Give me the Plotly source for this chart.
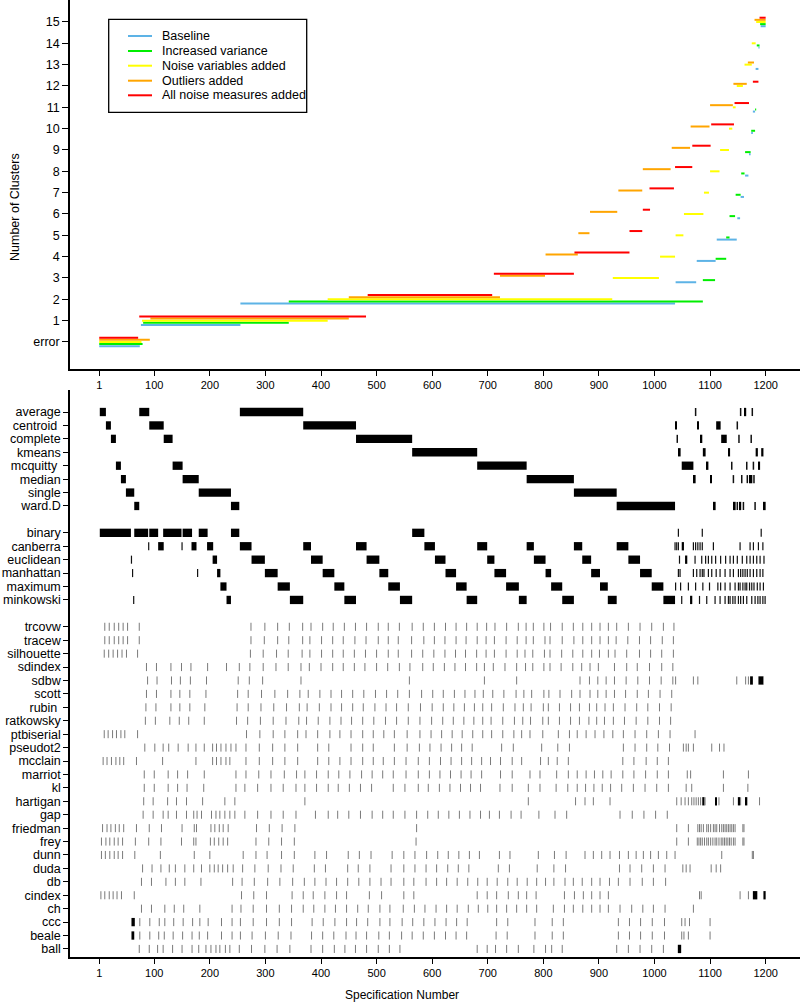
import plotly.graph_objects as go

# ---------------- data: top panel (number of clusters by specification) ----------------
x_tick_vals = [1, 100, 200, 300, 400, 500, 600, 700, 800, 900, 1000, 1100, 1200]
cluster_tick_vals = list(range(0, 16))
cluster_tick_text = ["error"] + [str(i) for i in range(1, 16)]

conditions = ["Baseline", "Increased variance", "Noise variables added",
              "Outliers added", "All noise measures added"]
condition_colors = ["#5DB3E6", "#00EE00", "#FFFF00", "#FFA500", "#FF0000"]

baseline_levels = [0, 1, 2, 3, 4, 5, 6, 7, 8, 9, 10, 11, 13, 14, 15]
baseline_start = [1, 76, 255, 1038, 1076, 1112, 1149, 1155, 1163, 1170, 1174, 1177, 1182, 1187, 1191]
baseline_end = [74, 255, 1037, 1075, 1110, 1148, 1154, 1161, 1169, 1173, 1177, 1181, 1187, 1189, 1200]

variance_levels = [0, 1, 2, 3, 4, 5, 6, 7, 8, 9, 10, 11, 14, 15]
variance_start = [1, 80, 342, 1087, 1110, 1129, 1135, 1146, 1156, 1163, 1174, 1181, 1184, 1190]
variance_end = [79, 342, 1087, 1109, 1129, 1135, 1145, 1155, 1162, 1173, 1181, 1183, 1189, 1200]

noisevar_levels = [0, 1, 2, 3, 4, 5, 6, 7, 8, 9, 10, 11, 12, 13, 14, 15]
noisevar_start = [1, 78, 412, 925, 1010, 1038, 1053, 1089, 1100, 1118, 1134, 1141, 1148, 1162, 1175, 1183]
noisevar_end = [77, 412, 924, 1008, 1037, 1052, 1088, 1098, 1117, 1134, 1140, 1146, 1159, 1175, 1182, 1200]

outlier_levels = [0, 1, 2, 3, 4, 5, 6, 7, 8, 9, 10, 11, 12, 13, 15]
outlier_start = [1, 93, 450, 722, 804, 863, 884, 935, 979, 1031, 1065, 1100, 1142, 1168, 1180]
outlier_end = [92, 450, 722, 803, 862, 883, 933, 978, 1029, 1064, 1099, 1141, 1166, 1179, 1200]

allnoise_levels = [0, 1, 2, 3, 4, 5, 6, 7, 8, 9, 10, 11, 12, 15]
allnoise_start = [1, 73, 484, 711, 856, 955, 979, 991, 1037, 1068, 1102, 1144, 1177, 1189]
allnoise_end = [71, 481, 708, 855, 955, 978, 992, 1035, 1068, 1101, 1143, 1170, 1187, 1200]

# ---------------- data: bottom panel (specification indicators) ----------------
method_rows = ["average", "centroid", "complete", "kmeans", "mcquitty", "median", "single", "ward.D"]
distance_rows = ["binary", "canberra", "euclidean", "manhattan", "maximum", "minkowski"]
index_rows = ["trcovw", "tracew", "silhouette", "sdindex", "sdbw", "scott", "rubin", "ratkowsky",
              "ptbiserial", "pseudot2", "mcclain", "marriot", "kl", "hartigan", "gap", "friedman",
              "frey", "dunn", "duda", "db", "cindex", "ch", "ccc", "beale", "ball"]
row_display = {"centroid": "centroid\u00a0", "mcquitty": "mcquitty\u00a0", "rubin": "rubin\u00a0"}

method_blocks = {
    "average": [(2, 13), (73, 91), (254, 368), (1162, 1165)],
    "centroid": [(13, 22), (91, 117), (368, 463), (1037, 1040), (1077, 1080), (1111, 1119)],
    "complete": [(22, 31), (117, 133), (463, 564), (1083, 1086), (1120, 1130)],
    "kmeans": [(564, 681), (1044, 1047), (1087, 1092), (1133, 1136), (1182, 1186), (1192, 1196)],
    "mcquitty": [(31, 40), (133, 151), (681, 770), (1049, 1070), (1094, 1097), (1187, 1190)],
    "median": [(40, 49), (151, 180), (770, 855), (1071, 1074), (1100, 1103), (1170, 1176)],
    "single": [(49, 64), (180, 238), (855, 932)],
    "ward.D": [(64, 73), (238, 253), (932, 1037), (1107, 1110), (1143, 1146), (1153, 1156), (1197, 1200)],
}
method_ticks = {
    "average": [1074, 1155, 1176],
    "centroid": [1149],
    "complete": [1041, 1152, 1174],
    "kmeans": [],
    "mcquitty": [1139, 1166, 1178],
    "median": [1142, 1157, 1167, 1179],
    "single": [],
    "ward.D": [1149, 1160, 1181],
}
distance_blocks = {
    "binary": [(2, 58), (64, 89), (91, 107), (116, 149), (151, 168), (180, 196), (238, 253), (564, 586)],
    "canberra": [(107, 117), (167, 176), (195, 206), (254, 275), (368, 382), (463, 482), (586, 605),
                 (681, 699), (770, 783), (855, 870), (932, 953), (1049, 1053)],
    "euclidean": [(205, 213), (275, 299), (382, 403), (482, 505), (605, 624), (699, 712), (783, 804),
                  (870, 886), (953, 974), (1055, 1059)],
    "manhattan": [(213, 219), (299, 322), (403, 424), (505, 521), (624, 643), (712, 733), (804, 814),
                  (886, 902), (974, 995)],
    "maximum": [(219, 230), (322, 344), (424, 442), (521, 542), (643, 662), (733, 756), (814, 834),
                (902, 916), (995, 1016)],
    "minkowski": [(230, 238), (344, 368), (442, 463), (542, 564), (662, 681), (756, 770), (834, 855),
                  (916, 932), (1016, 1037), (1064, 1068)],
}
distance_ticks = {
    "binary": [1043, 1086, 1192],
    "canberra": [90, 150, 1037, 1040, 1043, 1070, 1074, 1078, 1082, 1086, 1106, 1154, 1172, 1178, 1187, 1195],
    "euclidean": [59, 1045, 1073, 1085, 1092, 1097, 1103, 1110, 1119, 1128, 1136, 1142, 1149, 1158, 1166,
                  1172, 1178, 1184, 1190, 1197],
    "manhattan": [61, 178, 1043, 1046, 1070, 1076, 1082, 1086, 1089, 1097, 1103, 1111, 1118, 1127, 1136,
                  1142, 1151, 1155, 1159, 1163, 1167, 1172, 1178, 1184, 1190, 1195],
    "maximum": [1038, 1047, 1061, 1074, 1087, 1099, 1114, 1119, 1127, 1136, 1145, 1151, 1154, 1159, 1163,
                1166, 1171, 1175, 1179, 1185, 1190, 1196],
    "minkowski": [63, 1049, 1081, 1094, 1109, 1118, 1127, 1133, 1136, 1141, 1145, 1151, 1155, 1160, 1166,
                  1175, 1181, 1186, 1190, 1195, 1199],
}
index_blocks = {
    "sdbw": [(1172, 1177), (1187, 1196)],
    "hartigan": [(1086, 1090), (1109, 1112), (1150, 1154), (1164, 1167)],
    "cindex": [(1177, 1185), (1196, 1200)],
    "ccc": [(59, 65)],
    "beale": [(59, 64)],
    "ball": [(1042, 1048)],
}
index_ticks = {
    "trcovw": [11, 19, 28, 36, 44, 52, 73, 274, 299, 322, 343, 367, 382, 403, 422, 442, 462, 482, 503, 521, 541,
               564, 584, 604, 624, 643, 662, 681, 698, 713, 734, 755, 769, 782, 801, 813, 834, 854, 871, 887,
               902, 917, 932, 953, 974, 995, 1016, 1035],
    "tracew": [11, 19, 28, 36, 44, 52, 73, 274, 298, 322, 342, 367, 380, 401, 421, 440, 461, 481, 503, 521, 539,
               563, 585, 604, 623, 643, 661, 681, 697, 712, 733, 753, 769, 782, 803, 812, 834, 855, 871, 887,
               902, 917, 931, 952, 973, 993, 1014, 1034],
    "silhouette": [10, 18, 26, 34, 42, 50, 70, 273, 296, 320, 341, 366, 380, 401, 421, 440, 460, 480, 500, 521,
                   539, 563, 583, 603, 623, 642, 660, 680, 697, 712, 733, 753, 767, 781, 802, 812, 833, 853, 871,
                   887, 901, 917, 929, 950, 973, 993, 1013, 1034],
    "sdindex": [86, 104, 130, 149, 166, 196, 230, 253, 272, 296, 319, 341, 364, 379, 400, 421, 440, 460, 479, 500,
                520, 541, 560, 583, 602, 622, 641, 660, 680, 694, 710, 731, 752, 768, 781, 801, 812, 832, 853,
                869, 884, 899, 928, 950, 969, 991, 1013, 1033],
    "sdbw": [88, 105, 131, 147, 165, 194, 251, 271, 295, 364, 559, 694, 752, 866, 883, 898, 913, 928, 949, 970,
             991, 1012, 1033, 1038, 1070, 1078, 1148, 1164, 1169],
    "scott": [86, 104, 130, 146, 164, 193, 250, 269, 293, 317, 340, 362, 377, 398, 418, 437, 457, 477, 498, 518,
              538, 559, 581, 601, 620, 640, 659, 677, 692, 709, 729, 751, 765, 779, 801, 810, 830, 851, 866, 884,
              898, 913, 928, 948, 969, 989, 1010, 1031],
    "rubin": [85, 103, 130, 146, 164, 191, 249, 269, 292, 315, 338, 361, 375, 397, 418, 437, 457, 476, 497, 517,
              536, 557, 579, 600, 620, 639, 658, 676, 691, 707, 728, 749, 764, 778, 800, 809, 829, 849, 865, 883,
              896, 911, 926, 947, 968, 988, 1009, 1030],
    "ratkowsky": [84, 102, 128, 145, 162, 190, 248, 268, 291, 314, 337, 360, 374, 395, 416, 436, 455, 475, 495,
                  516, 536, 557, 578, 599, 619, 638, 657, 675, 691, 706, 727, 748, 763, 777, 799, 809, 829, 849,
                  865, 882, 896, 910, 926, 946, 967, 988, 1009, 1029],
    "ptbiserial": [10, 17, 25, 32, 40, 47, 70, 266, 290, 314, 335, 358, 373, 394, 416, 434, 454, 475, 494, 513,
                   532, 555, 578, 598, 617, 636, 654, 673, 691, 707, 727, 747, 761, 776, 799, 827, 847, 861, 877,
                   893, 909, 925, 944, 965, 986, 1007, 1028, 1073],
    "pseudot2": [83, 101, 116, 126, 143, 161, 175, 190, 205, 212, 220, 229, 238, 247, 265, 289, 313, 335, 358,
                 394, 414, 454, 475, 494, 532, 555, 577, 596, 616, 635, 653, 672, 725, 746, 797, 826, 847, 944,
                 965, 986, 1006, 1027, 1052, 1057, 1061, 1070, 1103, 1117, 1125],
    "mcclain": [8, 15, 23, 31, 38, 45, 68, 115, 175, 205, 212, 220, 229, 236, 265, 289, 313, 335, 358, 394, 414,
                434, 454, 475, 494, 512, 532, 553, 575, 595, 615, 634, 653, 671, 689, 705, 723, 744, 761, 795,
                809, 825, 845, 943, 963, 985, 1005, 1025],
    "marriot": [82, 100, 125, 142, 160, 190, 247, 265, 288, 310, 334, 356, 371, 392, 413, 432, 452, 473, 492,
                511, 530, 553, 575, 595, 614, 633, 652, 670, 689, 723, 744, 776, 794, 824, 845, 861, 877, 892,
                907, 922, 943, 963, 984, 1005, 1025, 1059, 1065, 1124, 1169],
    "kl": [82, 100, 125, 142, 159, 189, 247, 263, 286, 310, 332, 355, 371, 392, 413, 431, 451, 471, 491, 530,
           551, 575, 593, 613, 632, 651, 669, 687, 722, 744, 773, 794, 823, 844, 861, 876, 891, 906, 921, 941,
           962, 983, 1004, 1025, 1057, 1067, 1124, 1168],
    "hartigan": [81, 98, 124, 140, 158, 187, 227, 245, 371, 773, 858, 875, 890, 920, 1040, 1048, 1055, 1061,
                 1067, 1071, 1075, 1079, 1083, 1091, 1116, 1142, 1155, 1189],
    "gap": [80, 98, 116, 125, 140, 158, 171, 177, 185, 203, 211, 218, 227, 236, 245, 263, 286, 310, 332, 355,
            390, 413, 430, 450, 471, 492, 511, 530, 551, 572, 592, 611, 630, 649, 668, 687, 703, 721, 742, 760,
            792, 821, 842, 938, 960, 981, 1002, 1023],
    "friedman": [7, 15, 22, 30, 37, 45, 68, 91, 113, 150, 172, 176, 202, 209, 217, 224, 233, 284, 307, 330, 353,
                 572, 1040, 1061, 1078, 1081, 1084, 1088, 1094, 1097, 1101, 1106, 1109, 1112, 1117, 1121, 1124,
                 1127, 1130, 1133, 1136, 1139, 1142, 1145, 1159, 1161],
    "frey": [5, 13, 20, 28, 35, 43, 66, 90, 112, 149, 171, 175, 201, 208, 216, 224, 232, 283, 306, 329, 352,
             571, 1040, 1061, 1077, 1080, 1083, 1086, 1090, 1094, 1097, 1101, 1105, 1109, 1112, 1116, 1120, 1123,
             1126, 1129, 1132, 1135, 1138, 1142, 1145, 1159, 1161],
    "dunn": [5, 12, 20, 28, 35, 43, 65, 111, 172, 200, 260, 283, 303, 329, 352, 389, 410, 449, 469, 490, 528,
             549, 569, 590, 610, 629, 648, 667, 685, 721, 740, 791, 820, 841, 875, 890, 905, 920, 937, 953, 967,
             980, 993, 1007, 1022, 1037, 1121, 1176, 1178],
    "duda": [79, 96, 112, 127, 138, 155, 171, 185, 200, 208, 215, 223, 232, 242, 259, 281, 305, 328, 350, 388,
             408, 448, 467, 488, 526, 549, 569, 589, 608, 628, 647, 666, 719, 739, 789, 819, 840, 937, 956, 977,
             998, 1019, 1051, 1057, 1064, 1102, 1111, 1119],
    "db": [77, 95, 121, 138, 155, 184, 241, 258, 280, 304, 326, 349, 370, 389, 409, 428, 448, 468, 488, 508,
           526, 549, 567, 589, 608, 626, 645, 664, 682, 699, 717, 736, 753, 771, 788, 804, 819, 839, 854, 870,
           887, 902, 919, 935, 956, 978, 998, 1020],
    "cindex": [4, 11, 19, 26, 33, 41, 64, 257, 279, 302, 348, 368, 386, 407, 428, 446, 487, 509, 549, 567, 681,
               699, 716, 737, 755, 770, 787, 838, 856, 872, 887, 902, 917, 1081, 1084, 1154, 1169],
    "ch": [77, 95, 119, 136, 153, 182, 240, 256, 278, 302, 325, 347, 368, 387, 407, 426, 446, 466, 485, 506,
           524, 548, 568, 587, 607, 626, 645, 665, 683, 700, 716, 734, 752, 770, 788, 818, 838, 854, 871, 887,
           902, 917, 938, 959, 979, 998, 1019, 1070],
    "ccc": [74, 92, 109, 119, 135, 152, 169, 182, 197, 221, 240, 255, 278, 302, 325, 347, 384, 404, 425, 446,
            464, 484, 506, 524, 546, 565, 585, 605, 625, 644, 663, 716, 736, 785, 816, 836, 935, 955, 975, 996,
            1018, 1049, 1055, 1063, 1100],
    "beale": [74, 92, 108, 118, 134, 151, 168, 181, 196, 221, 240, 255, 276, 300, 323, 346, 383, 403, 423, 445,
              463, 482, 504, 523, 545, 564, 584, 604, 624, 643, 662, 715, 735, 785, 816, 836, 935, 955, 975, 996,
              1018, 1049, 1053, 1061, 1100],
    "ball": [73, 91, 106, 116, 133, 150, 168, 180, 193, 202, 211, 218, 228, 236, 253, 275, 299, 321, 344, 382,
             403, 424, 443, 462, 482, 503, 523, 542, 681, 699, 714, 734, 755, 783, 804, 815, 834, 932, 953, 974,
             995, 1016],
}

# ---------------- layout geometry ----------------
W, H = 800, 1003
ML, MR, MT, MB = 70, 0, 0, 46
PLOT_H = H - MT - MB
PLOT_W = W - ML - MR


def ypaper(py):
    return (H - MB - py) / PLOT_H


def xpaper(px):
    return (px - ML) / PLOT_W


X_RANGE = [-51.6, 1261.8]
FONT = "Liberation Sans, Arial, Helvetica, sans-serif"

fig = go.Figure()

# ---- top panel traces ----
series = [
    (baseline_levels, baseline_start, baseline_end),
    (variance_levels, variance_start, variance_end),
    (noisevar_levels, noisevar_start, noisevar_end),
    (outlier_levels, outlier_start, outlier_end),
    (allnoise_levels, allnoise_start, allnoise_end),
]
offsets = [-0.2, -0.1, 0.0, 0.1, 0.2]
for name, color, (lv, st, en), off in zip(conditions, condition_colors, series, offsets):
    xs, ys = [], []
    for l, s, e in zip(lv, st, en):
        xs += [s, e, None]
        ys += [l + off, l + off, None]
    fig.add_trace(go.Scatter(x=xs, y=ys, mode="lines", name=name,
                             line=dict(color=color, width=2),
                             xaxis="x", yaxis="y", showlegend=False, hoverinfo="skip"))

# ---- bottom panel traces ----
row_order = method_rows + [None] + distance_rows + [None] + index_rows
row_pos = {r: i for i, r in enumerate(row_order) if r is not None}

all_blocks = {}
all_blocks.update(method_blocks)
all_blocks.update(distance_blocks)
all_blocks.update(index_blocks)

b_y, b_base, b_len = [], [], []
for r, blocks in all_blocks.items():
    for s, e in blocks:
        b_y.append(row_pos[r])
        b_base.append(s)
        b_len.append(e - s)
fig.add_trace(go.Bar(orientation="h", y=b_y, x=b_len, base=b_base, width=0.62,
                     marker=dict(color="black", line=dict(width=0)),
                     xaxis="x2", yaxis="y2", showlegend=False, hoverinfo="skip"))

HALF = 0.3
for tick_dict, color, width in [(method_ticks, "#111111", 1.5), (distance_ticks, "#111111", 1.2),
                                (index_ticks, "#7a7a7a", 1.0)]:
    xs, ys = [], []
    for r, ticks in tick_dict.items():
        p = row_pos[r]
        for v in ticks:
            xs += [v, v, None]
            ys += [p - HALF, p + HALF, None]
    fig.add_trace(go.Scatter(x=xs, y=ys, mode="lines", line=dict(color=color, width=width),
                             xaxis="x2", yaxis="y2", showlegend=False, hoverinfo="skip"))

# ---------------- axes ----------------
axis_common = dict(showline=True, linecolor="black", linewidth=1.5, ticks="outside", tickcolor="black",
                   tickwidth=1, showgrid=False, zeroline=False)
xfont = dict(size=11, color="black", family=FONT)
yfont = dict(size=12.5, color="black", family=FONT)

fig.update_layout(
    width=W, height=H,
    margin=dict(l=ML, r=MR, t=MT, b=MB, autoexpand=False),
    plot_bgcolor="white", paper_bgcolor="white",
    font=dict(family=FONT, size=12, color="black"),
    barmode="overlay",
    showlegend=False,
    xaxis=dict(domain=[0, 1], anchor="y", range=X_RANGE, tickvals=x_tick_vals, ticklen=5,
               tickfont=xfont, **axis_common),
    yaxis=dict(domain=[ypaper(369), 1], anchor="x", range=[-1.266, 16.03],
               tickvals=cluster_tick_vals, ticktext=cluster_tick_text, ticklen=6,
               tickfont=yfont, **axis_common),
    xaxis2=dict(domain=[0, 1], anchor="y2", range=X_RANGE, tickvals=x_tick_vals, ticklen=5,
                tickfont=xfont, **axis_common),
    yaxis2=dict(domain=[0, ypaper(390)], anchor="x2", range=[40.6, -1.64],
                tickvals=[row_pos[r] for r in row_pos],
                ticktext=[row_display.get(r, r) for r in row_pos], ticklen=5,
                tickfont=yfont, **axis_common),
)

# ---------------- titles ----------------
fig.add_annotation(text="Number of Clusters", xref="paper", yref="paper",
                   x=xpaper(15), y=ypaper(207), textangle=-90, showarrow=False,
                   font=dict(size=12.5, family=FONT, color="black"), xanchor="center", yanchor="middle")
fig.add_annotation(text="Specification Number", xref="paper", yref="paper",
                   x=xpaper(402), y=ypaper(995), showarrow=False,
                   font=dict(size=12, family=FONT, color="black"), xanchor="center", yanchor="middle")

# ---------------- legend (drawn box) ----------------
fig.add_shape(type="rect", xref="paper", yref="paper",
              x0=xpaper(108.7), x1=xpaper(306.7), y0=ypaper(112.3), y1=ypaper(19.3),
              line=dict(color="black", width=1.3), fillcolor="white", layer="above")
legend_rows_px = [36, 51, 65.7, 80.7, 95.3]
for name, color, py in zip(conditions, condition_colors, legend_rows_px):
    fig.add_shape(type="line", xref="paper", yref="paper",
                  x0=xpaper(128), x1=xpaper(152), y0=ypaper(py), y1=ypaper(py),
                  line=dict(color=color, width=2), layer="above")
    fig.add_annotation(text=name, xref="paper", yref="paper", x=xpaper(160), y=ypaper(py),
                       xanchor="left", yanchor="middle", showarrow=False,
                       font=dict(size=12.5, family=FONT, color="black"))

fig.write_html("out.html", config={"displayModeBar": False},
               post_script="document.body.style.margin='0px';document.body.style.overflow='hidden';")
